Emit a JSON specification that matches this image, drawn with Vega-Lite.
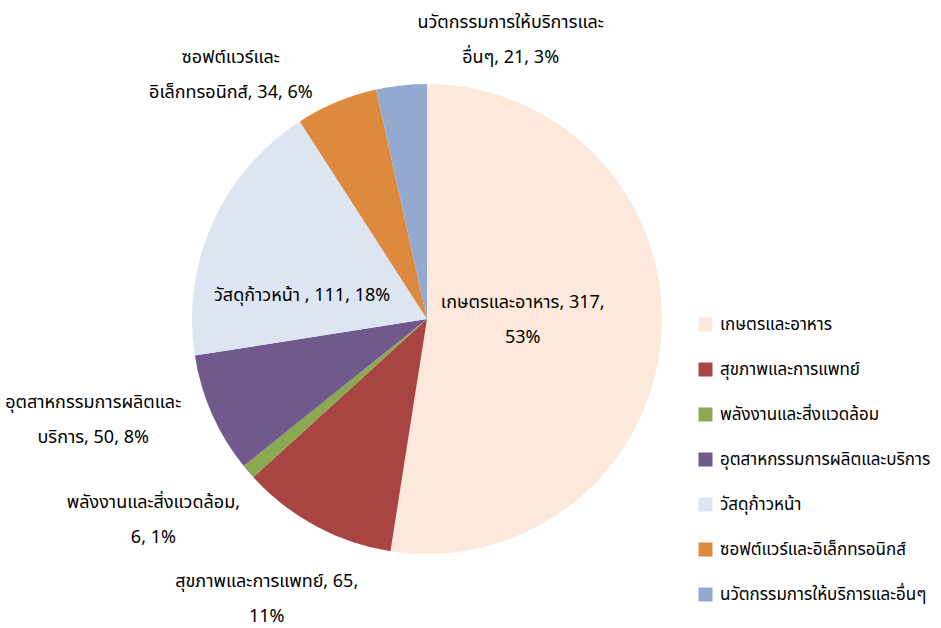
{
  "$schema": "https://vega.github.io/schema/vega-lite/v6.json",
  "width": 844,
  "height": 610,
  "autosize": {"type": "none"},
  "padding": {"left": 5, "top": 14, "right": 92, "bottom": 4},
  "background": "white",
  "config": {"view": {"stroke": null}, "font": "Tahoma, Noto Sans Thai, sans-serif"},
  "data": {"values": [
    {"cat": "เกษตรและอาหาร", "value": 317, "label": "เกษตรและอาหาร, 317,|53%"},
    {"cat": "สุขภาพและการแพทย์", "value": 65, "label": "สุขภาพและการแพทย์, 65,|11%"},
    {"cat": "พลังงานและสิ่งแวดล้อม", "value": 6, "label": "พลังงานและสิ่งแวดล้อม,|6, 1%"},
    {"cat": "อุตสาหกรรมการผลิตและบริการ", "value": 50, "label": "อุตสาหกรรมการผลิตและ|บริการ, 50, 8%"},
    {"cat": "วัสดุก้าวหน้า", "value": 111, "label": "วัสดุก้าวหน้า , 111, 18%"},
    {"cat": "ซอฟต์แวร์และอิเล็กทรอนิกส์", "value": 34, "label": "ซอฟต์แวร์และ|อิเล็กทรอนิกส์, 34, 6%"},
    {"cat": "นวัตกรรมการให้บริการและอื่นๆ", "value": 21, "label": "นวัตกรรมการให้บริการและ|อื่นๆ, 21, 3%"}
  ]},
  "transform": [{"window": [{"op": "row_number", "as": "idx"}]}],
  "encoding": {
    "theta": {"field": "value", "type": "quantitative", "stack": true},
    "order": {"field": "idx", "type": "quantitative"}
  },
  "layer": [
    {
      "mark": {"type": "arc", "outerRadius": 235},
      "encoding": {
        "color": {
          "field": "cat", "type": "nominal", "sort": null,
          "scale": {
            "domain": ["เกษตรและอาหาร", "สุขภาพและการแพทย์", "พลังงานและสิ่งแวดล้อม", "อุตสาหกรรมการผลิตและบริการ", "วัสดุก้าวหน้า", "ซอฟต์แวร์และอิเล็กทรอนิกส์", "นวัตกรรมการให้บริการและอื่นๆ"],
            "range": ["#FDE9DB", "#A84442", "#8BA950", "#71598E", "#DCE5F1", "#DE8A3E", "#93A9D0"]
          },
          "legend": {
            "title": null, "orient": "none", "legendX": 692, "legendY": 302,
            "symbolType": "square", "symbolSize": 196, "symbolStrokeWidth": 0,
            "labelFontSize": 17, "labelColor": "#000000", "labelLimit": 400,
            "rowPadding": 27, "labelOffset": 6
          }
        }
      }
    },
    {
      "mark": {"type": "text", "radius": 96, "dx": 0, "dy": -23, "lineBreak": "|", "lineHeight": 35, "fontSize": 18, "align": "center", "baseline": "middle", "color": "#000000"},
      "encoding": {"text": {"condition": {"test": "datum.cat === 'เกษตรและอาหาร'", "field": "label"}, "value": ""}}
    },
    {
      "mark": {"type": "text", "radius": 127, "dx": -9, "dy": 29, "lineBreak": "|", "lineHeight": 35, "fontSize": 18, "align": "center", "baseline": "middle", "color": "#000000"},
      "encoding": {"text": {"condition": {"test": "datum.cat === 'วัสดุก้าวหน้า'", "field": "label"}, "value": ""}}
    },
    {
      "mark": {"type": "text", "radius": 260, "dx": 112, "dy": -38, "lineBreak": "|", "lineHeight": 35, "fontSize": 18, "align": "center", "baseline": "middle", "color": "#000000"},
      "encoding": {"text": {"condition": {"test": "datum.cat === 'นวัตกรรมการให้บริการและอื่นๆ'", "field": "label"}, "value": ""}}
    },
    {
      "mark": {"type": "text", "radius": 260, "dx": -96, "dy": -21, "lineBreak": "|", "lineHeight": 35, "fontSize": 18, "align": "center", "baseline": "middle", "color": "#000000"},
      "encoding": {"text": {"condition": {"test": "datum.cat === 'ซอฟต์แวร์และอิเล็กทรอนิกส์'", "field": "label"}, "value": ""}}
    },
    {
      "mark": {"type": "text", "radius": 260, "dx": -96, "dy": -21, "lineBreak": "|", "lineHeight": 35, "fontSize": 18, "align": "center", "baseline": "middle", "color": "#000000"},
      "encoding": {"text": {"condition": {"test": "datum.cat === 'อุตสาหกรรมการผลิตและบริการ'", "field": "label"}, "value": ""}}
    },
    {
      "mark": {"type": "text", "radius": 260, "dx": -76, "dy": 15, "lineBreak": "|", "lineHeight": 35, "fontSize": 18, "align": "center", "baseline": "middle", "color": "#000000"},
      "encoding": {"text": {"condition": {"test": "datum.cat === 'พลังงานและสิ่งแวดล้อม'", "field": "label"}, "value": ""}}
    },
    {
      "mark": {"type": "text", "radius": 260, "dx": -37, "dy": 34, "lineBreak": "|", "lineHeight": 35, "fontSize": 18, "align": "center", "baseline": "middle", "color": "#000000"},
      "encoding": {"text": {"condition": {"test": "datum.cat === 'สุขภาพและการแพทย์'", "field": "label"}, "value": ""}}
    }
  ]
}
